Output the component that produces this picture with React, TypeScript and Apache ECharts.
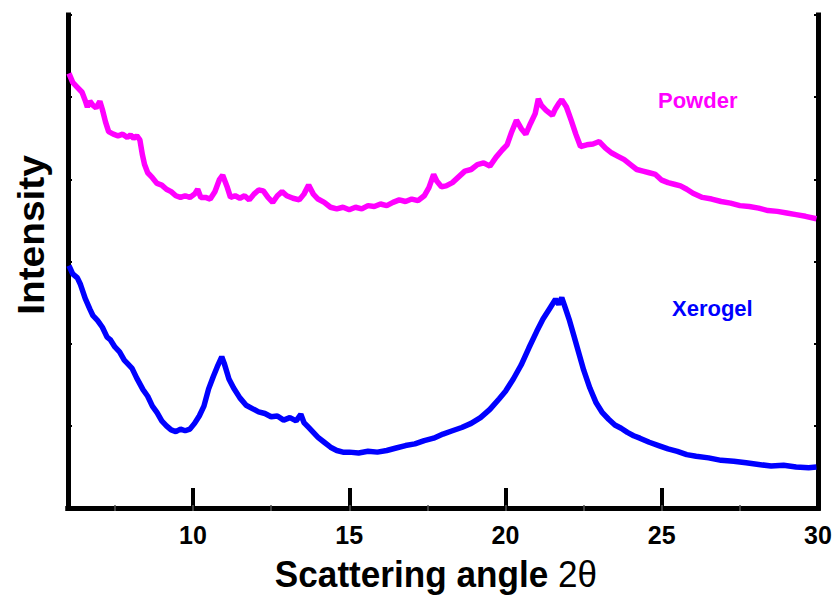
import React, { useEffect, useRef } from "react";
import * as echarts from "echarts";

const xTicks = [10, 15, 20, 25, 30];
const minorTicks = [7.5, 10, 12.5, 15, 17.5, 20, 22.5, 25, 27.5];

const powderX = [6.03, 6.15, 6.3, 6.45, 6.55, 6.62, 6.7, 6.8, 6.9, 7.02, 7.1, 7.2, 7.3, 7.45, 7.6, 7.75, 7.9, 8.0, 8.1, 8.2, 8.3, 8.38, 8.45, 8.55, 8.7, 8.85, 9.0, 9.15, 9.3, 9.45, 9.6, 9.75, 9.9, 10.05, 10.15, 10.25, 10.4, 10.55, 10.7, 10.85, 10.95, 11.1, 11.2, 11.35, 11.5, 11.65, 11.8, 11.95, 12.1, 12.25, 12.4, 12.55, 12.7, 12.85, 13.0, 13.2, 13.4, 13.55, 13.7, 13.85, 14.0, 14.2, 14.4, 14.6, 14.8, 15.0, 15.2, 15.4, 15.6, 15.8, 16.0, 16.2, 16.4, 16.6, 16.8, 17.0, 17.2, 17.4, 17.55, 17.7, 17.8, 17.95, 18.1, 18.3, 18.5, 18.7, 18.9, 19.1, 19.3, 19.5, 19.7, 19.9, 20.05, 20.2, 20.35, 20.5, 20.65, 20.8, 20.95, 21.05, 21.15, 21.3, 21.5, 21.6, 21.7, 21.8, 21.95, 22.1, 22.25, 22.4, 22.6, 22.8, 23.0, 23.2, 23.4, 23.6, 23.8, 24.0, 24.2, 24.4, 24.6, 24.8, 25.0, 25.2, 25.4, 25.6, 25.8, 26.0, 26.3, 26.6, 26.9, 27.2, 27.5, 27.8, 28.1, 28.4, 28.7, 29.0, 29.3, 29.6, 29.95];
const powderY = [5.29, 5.18, 5.12, 5.06, 4.96, 4.88, 4.95, 4.9, 4.87, 4.95, 4.85, 4.7, 4.58, 4.55, 4.53, 4.55, 4.51, 4.54, 4.5, 4.53, 4.48, 4.3, 4.18, 4.08, 4.02, 3.95, 3.93, 3.88, 3.85, 3.8, 3.78, 3.8, 3.78, 3.82, 3.88, 3.78, 3.78, 3.76, 3.85, 4.0, 4.05, 3.9, 3.78, 3.8, 3.77, 3.8, 3.75, 3.82, 3.87, 3.86, 3.78, 3.72, 3.8, 3.85, 3.8, 3.77, 3.75, 3.82, 3.93, 3.82, 3.76, 3.72, 3.66, 3.64, 3.66, 3.63, 3.66, 3.64, 3.68, 3.67, 3.7, 3.68, 3.72, 3.75, 3.73, 3.76, 3.74, 3.8, 3.9, 4.06, 3.98, 3.91, 3.92, 3.96, 4.03, 4.1, 4.12, 4.18, 4.2, 4.16, 4.27, 4.36, 4.42, 4.58, 4.72, 4.62, 4.55, 4.68, 4.8, 4.98, 4.9, 4.84, 4.78, 4.86, 4.92, 4.97, 4.88, 4.72, 4.55, 4.4, 4.42, 4.43, 4.46, 4.38, 4.32, 4.28, 4.24, 4.18, 4.12, 4.1, 4.08, 4.06, 3.99, 3.96, 3.94, 3.92, 3.88, 3.83, 3.78, 3.76, 3.73, 3.71, 3.68, 3.67, 3.65, 3.62, 3.61, 3.59, 3.57, 3.55, 3.52];

const xerogelX = [6.03, 6.15, 6.3, 6.4, 6.55, 6.7, 6.8, 6.95, 7.1, 7.25, 7.35, 7.5, 7.65, 7.8, 7.9, 8.05, 8.2, 8.4, 8.55, 8.7, 8.85, 9.0, 9.15, 9.3, 9.45, 9.6, 9.75, 9.9, 10.05, 10.2, 10.35, 10.5, 10.65, 10.8, 10.92, 11.0, 11.15, 11.3, 11.5, 11.7, 11.9, 12.1, 12.3, 12.5, 12.7, 12.9, 13.1, 13.3, 13.45, 13.55, 13.7, 13.85, 14.0, 14.2, 14.4, 14.6, 14.8, 15.0, 15.3, 15.6, 15.9, 16.2, 16.5, 16.8, 17.1, 17.4, 17.7, 18.0, 18.3, 18.6, 18.9, 19.2, 19.5, 19.8, 20.0, 20.25, 20.5, 20.75, 21.0, 21.2, 21.4, 21.6, 21.7, 21.8, 21.9, 22.05, 22.2, 22.35, 22.5, 22.7, 22.9, 23.1, 23.3, 23.5, 23.7, 23.9, 24.1, 24.3, 24.6, 24.9, 25.2, 25.5, 25.8, 26.1, 26.5, 26.9, 27.3, 27.7, 28.1, 28.5, 28.9, 29.3, 29.7, 29.95];
const xerogelY = [2.95, 2.85, 2.8, 2.72, 2.55, 2.42, 2.34, 2.28, 2.2, 2.08, 2.05, 1.96, 1.9, 1.8, 1.76, 1.7, 1.58, 1.44, 1.36, 1.24, 1.16, 1.06, 1.0, 0.95, 0.93, 0.96, 0.94, 0.96, 1.03, 1.12, 1.24, 1.45, 1.6, 1.74, 1.84, 1.76, 1.57, 1.46, 1.34, 1.25, 1.21, 1.17, 1.15, 1.11, 1.12, 1.07, 1.1, 1.06, 1.14, 1.04, 0.98, 0.92, 0.86, 0.8, 0.74, 0.7, 0.68, 0.68, 0.67, 0.69, 0.68, 0.7, 0.73, 0.76, 0.78, 0.82, 0.85, 0.9, 0.94, 0.98, 1.03, 1.1, 1.2, 1.33, 1.42, 1.57, 1.74, 1.95, 2.15, 2.3, 2.42, 2.54, 2.48, 2.56, 2.45, 2.28, 2.08, 1.88, 1.68, 1.46, 1.28, 1.16, 1.08, 1.01, 0.97, 0.92, 0.88, 0.85, 0.8, 0.76, 0.72, 0.69, 0.65, 0.63, 0.61, 0.58, 0.57, 0.55, 0.53, 0.51, 0.52, 0.5, 0.49, 0.5];

const FONT = "'Liberation Sans', Arial, sans-serif";

const zip = (xs: number[], ys: number[]) => xs.map((x, i) => [x, ys[i]]);

export default function App() {
  const ref = useRef<HTMLDivElement>(null);
  useEffect(() => {
    document.body.style.margin = "0";
    const chart = echarts.init(ref.current!, null, { renderer: "svg" });
    const frame = { show: true, lineStyle: { color: "#000", width: 5, cap: "square" } };
    chart.setOption({
      animation: false,
      backgroundColor: "#fff",
      grid: { left: 68, right: 21, top: 15, bottom: 96 },
      xAxis: [
        {
          type: "value", position: "bottom", min: 6, max: 30,
          axisLine: frame,
          axisTick: { show: true, inside: true, length: 20, lineStyle: { width: 4, color: "#000" }, customValues: xTicks },
          axisLabel: { show: true, customValues: xTicks, margin: 14, color: "#000", fontSize: 25, fontWeight: "bold", fontFamily: FONT, formatter: (v: number) => String(v) },
          splitLine: { show: false },
        },
        {
          type: "value", position: "top", min: 6, max: 30,
          axisLine: frame,
          axisTick: { show: true, inside: true, length: 3, lineStyle: { width: 1.5, color: "#555" }, customValues: minorTicks },
          axisLabel: { show: false },
          splitLine: { show: false },
        },
        {
          type: "value", position: "bottom", min: 6, max: 30,
          axisLine: { show: false },
          axisTick: { show: true, inside: true, length: 3, lineStyle: { width: 1.5, color: "#555" }, customValues: minorTicks },
          axisLabel: { show: false },
          splitLine: { show: false },
        },
      ],
      yAxis: [
        {
          type: "value", position: "left", min: 0, max: 6, interval: 1,
          axisLine: frame,
          axisTick: { show: true, inside: true, length: 4, lineStyle: { width: 2, color: "#000" } },
          axisLabel: { show: false },
          splitLine: { show: false },
        },
        {
          type: "value", position: "right", min: 0, max: 6, interval: 1,
          axisLine: frame,
          axisTick: { show: true, inside: true, length: 4, lineStyle: { width: 2, color: "#000" } },
          axisLabel: { show: false },
          splitLine: { show: false },
        },
      ],
      series: [
        {
          name: "Powder", type: "line", xAxisIndex: 0, yAxisIndex: 0,
          showSymbol: false, data: zip(powderX, powderY),
          lineStyle: { color: "#FF00FF", width: 5.5 },
        },
        {
          name: "Xerogel", type: "line", xAxisIndex: 0, yAxisIndex: 0,
          showSymbol: false, data: zip(xerogelX, xerogelY),
          lineStyle: { color: "#0000FF", width: 5.5 },
        },
      ],
      graphic: [
        {
          type: "text", x: 31, y: 235, rotation: Math.PI / 2, scaleX: 1.05,
          style: { text: "Intensity", fill: "#000", font: `bold 37px ${FONT}`, textAlign: "center", textVerticalAlign: "middle" },
        },
        {
          type: "text", x: 436, y: 574, scaleX: 0.95,
          style: {
            text: "{b|Scattering angle }{r|2θ}",
            textAlign: "center", textVerticalAlign: "middle",
            rich: {
              b: { fontSize: 37, fontWeight: "bold", fontFamily: FONT, fill: "#000" },
              r: { fontSize: 37, fontWeight: "normal", fontFamily: FONT, fill: "#000" },
            },
          },
        },
        {
          type: "text", x: 658, y: 100,
          style: { text: "Powder", fill: "#FF00FF", font: `bold 22px ${FONT}`, textAlign: "left", textVerticalAlign: "middle" },
        },
        {
          type: "text", x: 672, y: 308,
          style: { text: "Xerogel", fill: "#0000FF", font: `bold 22px ${FONT}`, textAlign: "left", textVerticalAlign: "middle" },
        },
      ],
    });
    return () => chart.dispose();
  }, []);
  return <div ref={ref} style={{ width: 839, height: 604 }} />;
}
